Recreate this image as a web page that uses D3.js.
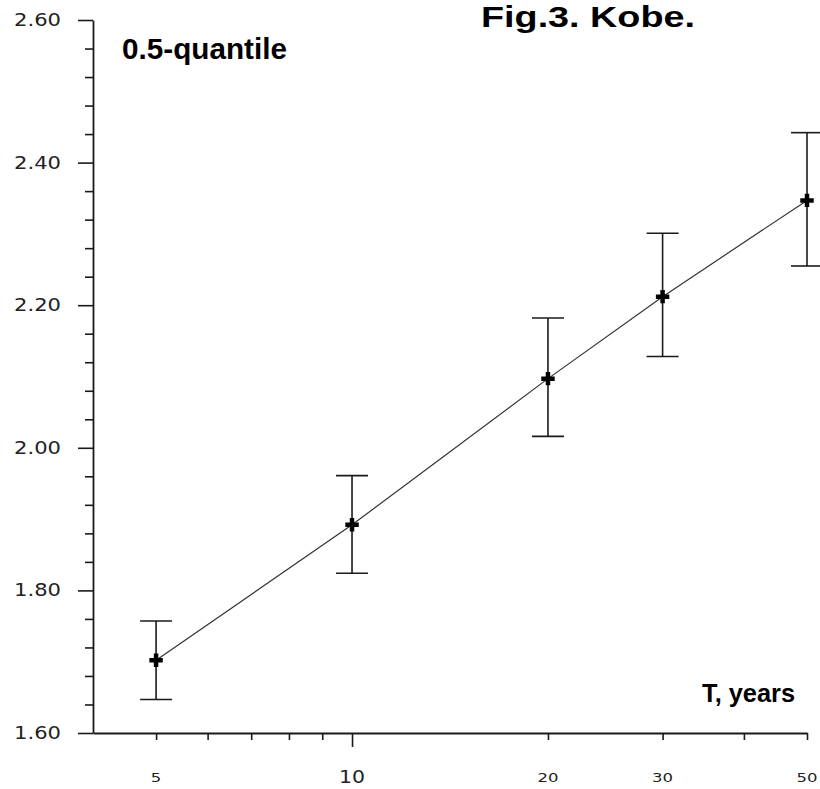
<!DOCTYPE html>
<html>
<head>
<meta charset="utf-8">
<script src="https://cdn.jsdelivr.net/npm/d3@7"></script>
<style>
  html, body { margin: 0; padding: 0; background: #fff; }
  svg { display: block; }
</style>
</head>
<body>
<svg id="chart" width="820" height="789"></svg>
<script>
// return periods (years) and the 0.5-quantile with its bounds
const periods = [5, 10, 20, 30, 50];
const median  = [1.702, 1.892, 2.097, 2.212, 2.347];
const upper   = [1.757, 1.961, 2.182, 2.301, 2.442];
const lower   = [1.647, 1.824, 2.016, 2.128, 2.255];

const yMajor = [1.6, 1.8, 2.0, 2.2, 2.4, 2.6];
const yMinor = d3.range(1.64, 2.6, 0.04).filter(v => !yMajor.some(m => Math.abs(m - v) < 1e-6));
const xTicks = [5, 6, 7, 8, 9, 20, 30, 40, 50];
const xLongTicks = [10];
const xLabels = ["5", "10", "20", "30", "50"];
const xLabelVals = [5, 10, 20, 30, 50];

const svg = d3.select("#chart");

const x = d3.scaleLog().domain([4, 50]).range([93, 807]);
const y = d3.scaleLinear().domain([1.6, 2.6]).range([733, 20]);

const ink = "#1a1a1a";

// y axis: minor ticks then major ticks with labels
svg.append("g")
    .attr("transform", "translate(93,0)")
    .call(d3.axisLeft(y).tickValues(yMinor).tickSize(8).tickSizeOuter(0).tickFormat(""))
    .call(g => g.select(".domain").remove())
    .call(g => g.selectAll("line").attr("stroke", ink).attr("stroke-width", 1.6));

svg.append("g")
    .attr("transform", "translate(93,0)")
    .call(d3.axisLeft(y).tickValues(yMajor).tickSize(15).tickSizeOuter(0).tickPadding(17).tickFormat(d3.format(".2f")))
    .call(g => g.select(".domain").attr("stroke", ink).attr("stroke-width", 1.8))
    .call(g => g.selectAll("line").attr("stroke", ink).attr("stroke-width", 1.6))
    .call(g => g.selectAll("text")
        .attr("fill", "#222")
        .style("font-family", "'DejaVu Sans', sans-serif")
        .style("font-size", "17px")
        .attr("textLength", 47)
        .attr("lengthAdjust", "spacingAndGlyphs"));

// x axis: log scale, ticks only
svg.append("g")
    .attr("transform", "translate(0,733)")
    .call(d3.axisBottom(x).tickValues(xTicks).tickSize(7).tickSizeOuter(0).tickFormat(""))
    .call(g => g.select(".domain").attr("stroke", ink).attr("stroke-width", 1.8))
    .call(g => g.selectAll("line").attr("stroke", ink).attr("stroke-width", 1.6));

svg.append("g")
    .attr("transform", "translate(0,733)")
    .call(d3.axisBottom(x).tickValues(xLongTicks).tickSize(14).tickSizeOuter(0).tickFormat(""))
    .call(g => g.select(".domain").remove())
    .call(g => g.selectAll("line").attr("stroke", ink).attr("stroke-width", 1.6));

// x tick labels (10 is drawn larger than the rest, as in the original)
svg.append("g").selectAll("text")
    .data(xLabels)
    .join("text")
    .attr("x", (d, i) => x(xLabelVals[i]))
    .attr("y", d => d === "10" ? 783 : 782)
    .attr("text-anchor", "middle")
    .attr("fill", "#222")
    .style("font-family", "'DejaVu Sans', sans-serif")
    .style("font-size", d => d === "10" ? "17px" : "12px")
    .attr("textLength", d => d === "10" ? 26 : d.length * 10.5)
    .attr("lengthAdjust", "spacingAndGlyphs")
    .text(d => d);

// connecting line
const pts = periods.map((p, i) => [x(p), y(median[i])]);
svg.append("path")
    .attr("d", d3.line()(pts))
    .attr("fill", "none")
    .attr("stroke", "#333")
    .attr("stroke-width", 1.2);

// error bars
const bars = svg.append("g")
    .attr("stroke", ink)
    .attr("stroke-width", 1.6);

periods.forEach((p, i) => {
    const cx = x(p);
    bars.append("line").attr("x1", cx).attr("x2", cx).attr("y1", y(upper[i])).attr("y2", y(lower[i]));
    bars.append("line").attr("x1", cx - 16).attr("x2", cx + 16).attr("y1", y(upper[i])).attr("y2", y(upper[i]));
    bars.append("line").attr("x1", cx - 16).attr("x2", cx + 16).attr("y1", y(lower[i])).attr("y2", y(lower[i]));
});

// plus markers
svg.append("g").selectAll("path")
    .data(pts)
    .join("path")
    .attr("transform", d => `translate(${d[0]},${d[1]})`)
    .attr("d", d3.symbol(d3.symbolCross, 100))
    .attr("fill", "#000");

// texts
svg.append("text")
    .attr("x", 481).attr("y", 27)
    .attr("fill", "#000")
    .style("font-family", "'Liberation Sans', Arial, sans-serif")
    .style("font-weight", "bold")
    .style("font-size", "29px")
    .attr("textLength", 214)
    .attr("lengthAdjust", "spacingAndGlyphs")
    .text("Fig.3. Kobe.");

svg.append("text")
    .attr("x", 122).attr("y", 59)
    .attr("fill", "#000")
    .style("font-family", "'Liberation Sans', Arial, sans-serif")
    .style("font-weight", "bold")
    .style("font-size", "29px")
    .attr("textLength", 165)
    .attr("lengthAdjust", "spacingAndGlyphs")
    .text("0.5-quantile");

svg.append("text")
    .attr("x", 702).attr("y", 702)
    .attr("fill", "#000")
    .style("font-family", "'Liberation Sans', Arial, sans-serif")
    .style("font-weight", "bold")
    .style("font-size", "25px")
    .attr("textLength", 93)
    .attr("lengthAdjust", "spacingAndGlyphs")
    .text("T, years");
</script>
</body>
</html>
